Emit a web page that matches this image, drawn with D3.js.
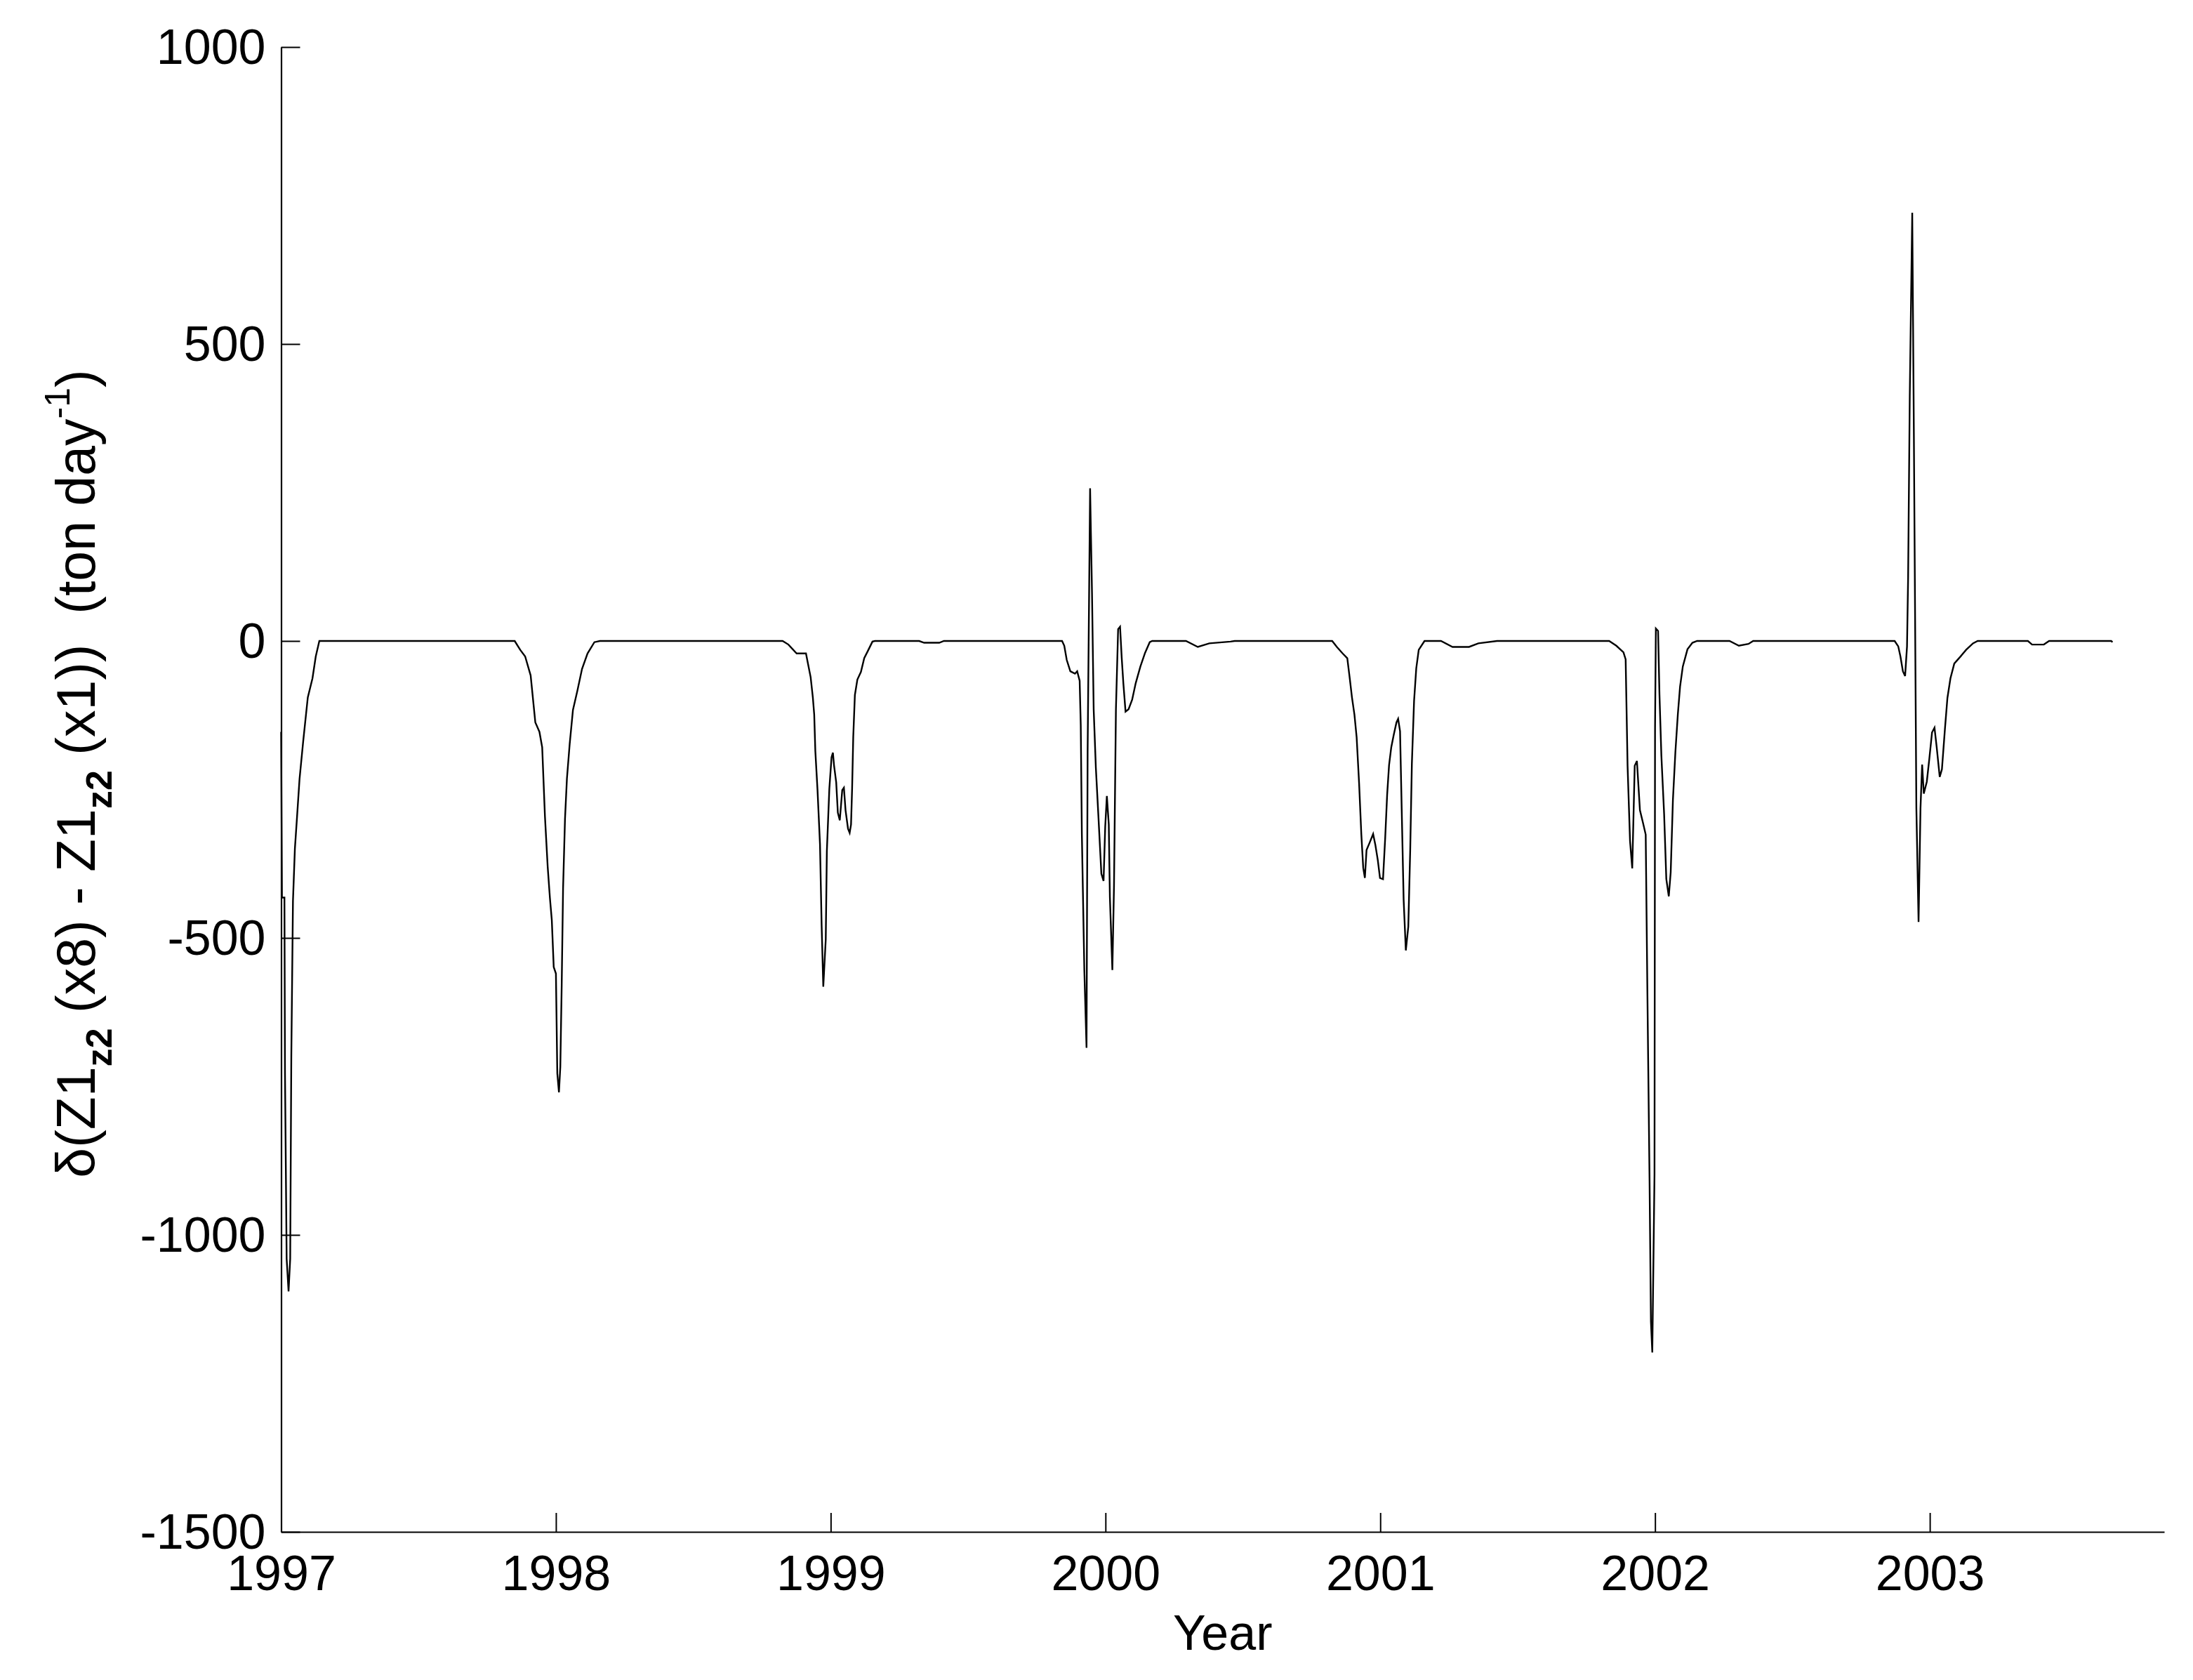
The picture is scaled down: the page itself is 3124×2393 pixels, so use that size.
<!DOCTYPE html>
<html>
<head>
<meta charset="utf-8">
<script src="https://cdn.jsdelivr.net/npm/d3@7/dist/d3.min.js"></script>
<style>
  html, body { margin: 0; padding: 0; background: #ffffff; }
  svg { display: block; }
  text { font-family: "Liberation Sans", Arial, Helvetica, sans-serif; fill: #000; }
</style>
</head>
<body>
<svg id="chart" width="3124" height="2393"></svg>
<script>
// ---------------- data (decimal year, value in ton/day) ----------------
const years = [
  1997.000, 1997.003, 1997.012, 1997.014, 1997.020, 1997.027, 1997.033, 1997.037, 1997.043, 1997.050,
  1997.058, 1997.067, 1997.080, 1997.097, 1997.114, 1997.126, 1997.139,
  1997.850, 1997.870, 1997.888, 1997.908, 1997.925, 1997.940, 1997.950, 1997.960, 1997.970,
  1997.978, 1997.985, 1997.992, 1998.000, 1998.005, 1998.011, 1998.016, 1998.021, 1998.026,
  1998.033, 1998.040, 1998.050, 1998.062, 1998.078, 1998.095, 1998.115, 1998.140, 1998.160,
  1998.825, 1998.846, 1998.876, 1998.910, 1998.918, 1998.927, 1998.935, 1998.940, 1998.944,
  1998.952, 1998.961, 1998.967, 1998.973, 1998.982, 1998.986, 1998.995, 1999.003, 1999.008,
  1999.012, 1999.020, 1999.026, 1999.033, 1999.042, 1999.048, 1999.054, 1999.063, 1999.069,
  1999.074, 1999.078, 1999.082, 1999.088, 1999.097, 1999.110, 1999.122, 1999.135, 1999.152,
  1999.161, 1999.322, 1999.340, 1999.395, 1999.412,
  1999.842, 1999.850, 1999.859, 1999.872, 1999.889, 1999.897, 1999.906, 1999.910, 1999.914,
  1999.923, 1999.931, 1999.935, 1999.944, 1999.951, 1999.957, 1999.965, 1999.974, 1999.985,
  1999.993, 1999.999, 2000.005, 2000.012, 2000.016, 2000.025, 2000.031, 2000.038, 2000.046,
  2000.053, 2000.059, 2000.065, 2000.073, 2000.084, 2000.097, 2000.110, 2000.127, 2000.144,
  2000.161, 2000.170, 2000.293, 2000.336, 2000.378, 2000.455, 2000.470,
  2000.825, 2000.842, 2000.863, 2000.880, 2000.889, 2000.897, 2000.906, 2000.914, 2000.923,
  2000.931, 2000.938, 2000.944, 2000.950, 2000.961, 2000.974, 2000.982, 2000.991, 2000.999,
  2001.010, 2001.018, 2001.025, 2001.032, 2001.040, 2001.049, 2001.059, 2001.065, 2001.072,
  2001.078, 2001.085, 2001.093, 2001.102, 2001.109, 2001.115, 2001.123, 2001.131, 2001.140,
  2001.161, 2001.221, 2001.263, 2001.323, 2001.357, 2001.425,
  2001.833, 2001.859, 2001.885, 2001.893, 2001.900, 2001.909, 2001.917, 2001.926, 2001.934,
  2001.945, 2001.957, 2001.966, 2001.972, 2001.980, 2001.985, 2001.990, 2001.998, 2002.000,
  2002.003, 2002.011, 2002.016, 2002.023, 2002.033, 2002.041, 2002.050, 2002.057, 2002.065,
  2002.074, 2002.083, 2002.091, 2002.101, 2002.118, 2002.136, 2002.153, 2002.271, 2002.305,
  2002.340, 2002.357,
  2002.872, 2002.885, 2002.893, 2002.902, 2002.910, 2002.917, 2002.921, 2002.927, 2002.936,
  2002.942, 2002.951, 2002.959, 2002.966, 2002.972, 2002.978, 2002.989, 2002.998, 2003.008,
  2003.017, 2003.025, 2003.036, 2003.044, 2003.055, 2003.064, 2003.075, 2003.089, 2003.110,
  2003.132, 2003.157, 2003.174, 2003.357, 2003.372, 2003.415, 2003.434, 2003.660, 2003.665
];
const values = [
  -153, -432, -432, -728, -1040, -1095, -1040, -700, -438, -350,
  -295, -232, -170, -95, -63, -26, 0,
  0, -15, -26, -58, -137, -153, -179, -295, -380,
  -432, -470, -549, -560, -728, -760, -717, -580, -417,
  -300, -232, -174, -116, -84, -47, -21, -2, 0,
  0, -6, -21, -21, -40, -61, -95, -124, -185,
  -251, -342, -479, -582, -502, -354, -249, -196, -188,
  -209, -238, -289, -302, -251, -247, -285, -316, -323,
  -309, -247, -162, -91, -65, -52, -29, -17, -1,
  0, 0, -3, -3, 0,
  0, -8, -32, -51, -55, -51, -67, -142, -325,
  -554, -685, -186, 257, 79, -115, -214, -293, -392,
  -404, -313, -261, -309, -431, -554, -412, -115, 20,
  24, -28, -71, -119, -115, -99, -71, -43, -20,
  -2, 0, 0, -10, -4, -1, 0,
  0, -10, -21, -29, -63, -95, -124, -162, -240,
  -325, -382, -399, -352, -340, -325, -343, -369, -399,
  -401, -331, -259, -209, -179, -158, -137, -131, -152,
  -283, -435, -521, -481, -352, -207, -101, -46, -15,
  0, 0, -10, -10, -4, 0,
  0, -8, -19, -31, -210, -337, -383, -210, -202,
  -285, -308, -326, -586, -909, -1146, -1198, -898, -146,
  21, 17, -89, -193, -291, -401, -430, -389, -268,
  -187, -123, -77, -43, -14, -3, 0, 0, -8,
  -5, 0,
  0, -9, -26, -51, -59, -9, 107, 413, 721,
  343, -282, -473, -282, -208, -257, -237, -199, -154,
  -146, -179, -229, -216, -148, -96, -63, -38, -27,
  -15, -4, 0, 0, -6, -6, 0, 0, -2
];

const xTickValues = [1997, 1998, 1999, 2000, 2001, 2002, 2003];
const xTickLabels = ["1997", "1998", "1999", "2000", "2001", "2002", "2003"];
const yTickValues = [1000, 500, 0, -500, -1000, -1500];
const yTickLabels = ["1000", "500", "0", "-500", "-1000", "-1500"];
const xDomain = [1997, 2003.853];
const yDomain = [-1500, 1000];
const xAxisTitle = "Year";

// ---------------- layout ----------------
const W = 3124, H = 2393;
const plotLeft = 400.5, plotRight = 3083, plotTop = 67, plotBottom = 2182;
const FONT = 70;

const svg = d3.select("#chart");
svg.append("rect").attr("width", W).attr("height", H).attr("fill", "#fff");

const x = d3.scaleLinear().domain(xDomain).range([plotLeft, plotRight]);
const y = d3.scaleLinear().domain(yDomain).range([plotBottom, plotTop]);

// data line
const pts = years.map((yr, i) => [yr, values[i]]);
svg.append("path")
  .datum(pts)
  .attr("fill", "none")
  .attr("stroke", "#000")
  .attr("stroke-width", 2.4)
  .attr("stroke-linejoin", "miter")
  .attr("d", d3.line().x(d => x(d[0])).y(d => y(d[1])));

// axes
const yAxis = d3.axisLeft(y)
  .tickValues(yTickValues)
  .tickFormat((d, i) => yTickLabels[i])
  .tickSizeInner(-27)
  .tickSizeOuter(0)
  .tickPadding(22);
const gy = svg.append("g").attr("transform", `translate(${plotLeft},0)`).call(yAxis);

const xAxis = d3.axisBottom(x)
  .tickValues(xTickValues)
  .tickFormat((d, i) => xTickLabels[i])
  .tickSizeInner(-27)
  .tickSizeOuter(0)
  .tickPadding(33);
const gx = svg.append("g").attr("transform", `translate(0,${plotBottom})`).call(xAxis);

[gx, gy].forEach(g => {
  g.select(".domain").attr("stroke", "#000").attr("stroke-width", 2.2);
  g.selectAll(".tick line").attr("stroke", "#000").attr("stroke-width", 2);
  g.selectAll(".tick text")
    .attr("fill", "#000")
    .style("font-family", '"Liberation Sans", Arial, sans-serif')
    .style("font-size", FONT + "px");
});
gy.selectAll(".tick text").attr("dy", "0.34em");

// x axis title
svg.append("text")
  .attr("x", (plotLeft + plotRight) / 2)
  .attr("y", 2350)
  .attr("text-anchor", "middle")
  .style("font-size", FONT + "px")
  .text(xAxisTitle);

// y axis title with sub/superscripts
const yt = svg.append("text")
  .attr("transform", `translate(135,1102) rotate(-90)`)
  .attr("text-anchor", "middle")
  .style("font-size", "77px")
  .style("white-space", "pre");
const SUB = 24, SUP = 36;
yt.append("tspan").text("\u03B4(Z1");
yt.append("tspan").attr("dy", SUB).style("font-size", "52px").style("font-weight", "bold").text("z2");
yt.append("tspan").attr("dy", -SUB).text(" (x8) - Z1");
yt.append("tspan").attr("dy", SUB).style("font-size", "52px").style("font-weight", "bold").text("z2");
yt.append("tspan").attr("dy", -SUB).text(" (x1))  (ton day");
yt.append("tspan").attr("dy", -SUP).style("font-size", "50px").text("-1");
yt.append("tspan").attr("dy", SUP).text(")");
</script>
</body>
</html>
